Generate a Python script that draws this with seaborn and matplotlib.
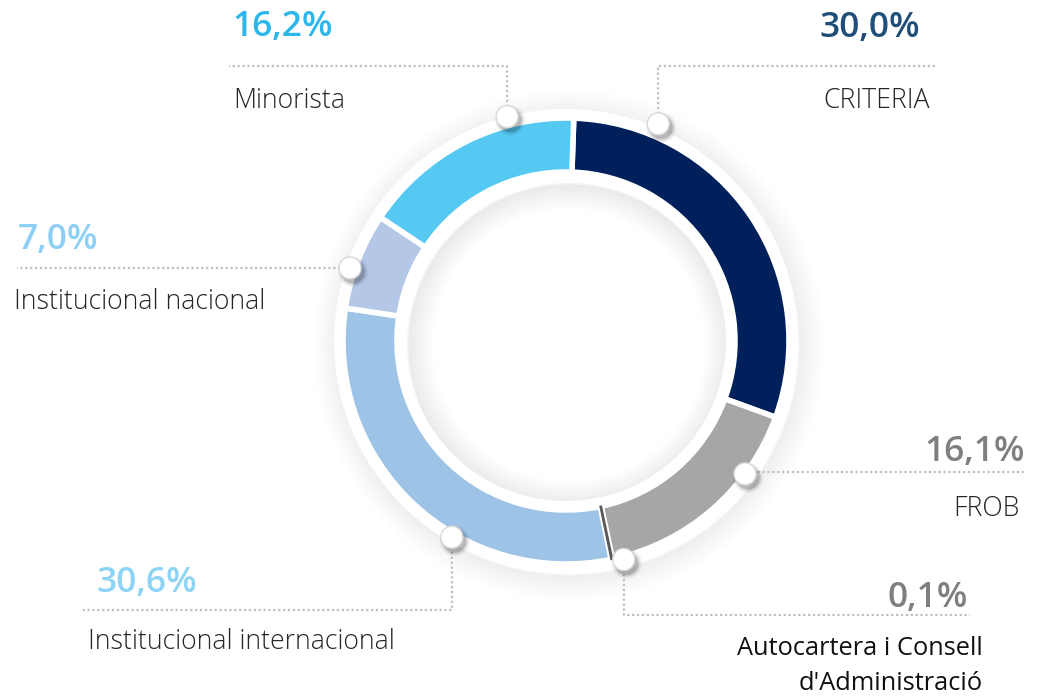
import numpy as np
import pandas as pd
import seaborn as sns
import matplotlib.pyplot as plt
from matplotlib.patches import Circle, Wedge

# data
categories = ['CRITERIA', 'FROB', "Autocartera i Consell\nd'Administració",
              'Institucional internacional', 'Institucional nacional', 'Minorista']
shares = [30.0, 16.1, 0.1, 30.6, 7.0, 16.2]
slice_colors = ['#00205B', '#A6A6A6', '#595959', '#9DC3E6', '#B4C7E7', '#56C9F2']
pct_colors = ['#1F4E79', '#7F7F7F', '#7F7F7F', '#8DD3F6', '#8DCFF5', '#2BB7EA']

df = pd.DataFrame({'cat': categories, 'share': shares})
df['pct'] = df['share'].map(lambda v: f'{v:.1f}'.replace('.', ',') + '%')

sns.set_theme(style='white')
plt.rcParams['font.family'] = ['Open Sans', 'DejaVu Sans']

W, H = 1039, 696
fig = plt.figure(figsize=(W / 100, H / 100), dpi=100)
ax = fig.add_axes([0, 0, 1, 1])
ax.set_xlim(0, W)
ax.set_ylim(0, H)
ax.set_aspect('equal')
ax.axis('off')

cx, cy = 566, H - 341
r_out, ring = 223, 54
r_in = r_out - ring

# soft shadow around ring
for k in range(16):
    ax.add_patch(Wedge((cx + 3, cy - 4), r_out + 9 + k * 1.6, 0, 360, width=3,
                       color='#000000', alpha=0.035 * (1 - k / 16), lw=0, zorder=1))
    ax.add_patch(Wedge((cx + 3, cy - 4), r_in - 7 - k * 1.6, 0, 360, width=3,
                       color='#000000', alpha=0.045 * (1 - k / 16), lw=0, zorder=1))
# white border ring
ax.add_patch(Wedge((cx, cy), r_out + 9, 0, 360, width=ring + 18, color='white', lw=0, zorder=2))

wedges, _ = ax.pie(df['share'], colors=slice_colors, radius=r_out, center=(cx, cy),
                   startangle=88, counterclock=False, frame=True,
                   wedgeprops=dict(width=ring, edgecolor='white', linewidth=4, zorder=3))
# the tiny slice stays visible as a dark sliver
wedges[2].set_edgecolor(slice_colors[2])
wedges[2].set_linewidth(1.2)
wedges[2].set_zorder(3.5)
ax.set_xlim(0, W)
ax.set_ylim(0, H)
ax.axis('off')

# label layout: dot angle/radius, connector corner, line end, text anchors
layout = [
    dict(ang=67, r=236, corner=(658, 66), end=(937, 66), pct=(920, 28, 'right'), lab=(930, 101, 'right')),
    dict(ang=-36.6, r=223, corner=(745, 472), end=(1025, 472), pct=(1025, 452, 'right'), lab=(1020, 509, 'right')),
    dict(ang=-75.2, r=226, corner=(624, 615), end=(970, 615), pct=(968, 598, 'right'), lab=(983, 666, 'right')),
    dict(ang=-120.2, r=227, corner=(452, 610), end=(83, 610), pct=(97, 583, 'left'), lab=(88, 642, 'left')),
    dict(ang=161.3, r=228, corner=(350, 268), end=(17, 268), pct=(18, 240, 'left'), lab=(14, 302, 'left')),
    dict(ang=104.7, r=232, corner=(507, 66), end=(229, 66), pct=(232, 27, 'left'), lab=(233, 101, 'left')),
]

for i, row in df.iterrows():
    L = layout[i]
    a = np.deg2rad(L['ang'])
    dx, dy = cx + L['r'] * np.cos(a), cy + L['r'] * np.sin(a)
    kx, ky = L['corner'][0], H - L['corner'][1]
    ex, ey = L['end'][0], H - L['end'][1]
    ax.plot([dx, kx, ex], [dy, ky, ey], color='#BFBFBF', lw=1.6,
            linestyle=(0, (1, 1.2)), zorder=4)
    for s, al in [(15, 0.06), (13, 0.1), (11.5, 0.14)]:
        ax.add_patch(Circle((dx + 3, dy - 4), s, color='#000000', alpha=al, lw=0, zorder=5))
    ax.add_patch(Circle((dx, dy), 11, facecolor='white', edgecolor='#D9D9D9', lw=1, zorder=6))

    px, py, pha = L['pct']
    ax.text(px, H - py, row['pct'], ha=pha, va='center', fontsize=25.5,
            fontweight='semibold', color=pct_colors[i], zorder=7)
    lx, ly, lha = L['lab']
    if '\n' in row['cat']:
        ax.text(lx, H - ly, row['cat'], ha=lha, va='center', fontsize=18.3,
                color='#111111', linespacing=1.55, multialignment='right', zorder=7)
    else:
        ax.text(lx, H - ly, row['cat'], ha=lha, va='center', fontsize=19.2,
                fontweight='light', color='#262626', zorder=7)

plt.savefig('out.png', dpi=100)
plt.close()
